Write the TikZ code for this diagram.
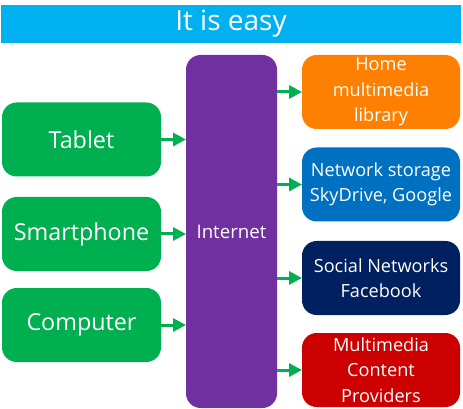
\documentclass[tikz,border=0pt]{standalone}
\usepackage{fontspec}
\setmainfont{Open Sans}
\usetikzlibrary{arrows.meta}
\definecolor{titleblue}{HTML}{00B0F0}
\definecolor{devgreen}{HTML}{00B050}
\definecolor{netpurple}{HTML}{7030A0}
\definecolor{homeorange}{HTML}{FF8000}
\definecolor{storeblue}{HTML}{0070C0}
\definecolor{socialnavy}{HTML}{002060}
\definecolor{contentred}{HTML}{CC0000}
\begin{document}
\begin{tikzpicture}[x=0.75pt, y=-0.75pt, every node/.style={text=white, align=center, inner sep=0pt, outer sep=0pt}, device/.style={fill=devgreen, rounded corners=11pt, minimum width=119.25pt, minimum height=55.5pt, font=\fontsize{17.5}{22}\selectfont}, service/.style={rounded corners=11pt, minimum width=118.5pt, minimum height=55.5pt, font=\fontsize{13.6}{19}\selectfont}, link/.style={-{Triangle[length=9.75pt, width=9.75pt]}, line width=2.25pt, draw=devgreen}]
        \useasboundingbox (0, 0) rectangle (463, 409);
        \node[fill=titleblue, minimum width=345pt, minimum height=28.5pt, font=\fontsize{21}{26}\selectfont] (title) at (231, 24) {It is easy};
        
        \node[fill=netpurple, rounded corners=11pt, minimum width=68.25pt, minimum height=264.75pt, font=\fontsize{14}{19}\selectfont] (internet) at (231.5, 231.5) {Internet};
        
        \node[device] (tablet) at (81.5, 139.5) {Tablet};
        \node[device] (smartphone) at (81.5, 234) {Smartphone};
        \node[device] (computer) at (81.5, 325) {Computer};
        
        \node[service, fill=homeorange] (home) at (381, 92) {Home\\multimedia\\library};
        \node[service, fill=storeblue] (storage) at (381, 184.5) {Network storage\\SkyDrive, Google};
        \node[service, fill=socialnavy] (social) at (381, 278) {Social Networks\\Facebook};
        \node[service, fill=contentred] (content) at (381, 370) {Multimedia\\Content\\Providers};
        
        \draw[link] (tablet.east) -- (tablet.east -| internet.west);
        \draw[link] (smartphone.east) -- (smartphone.east -| internet.west);
        \draw[link] (computer.east) -- (computer.east -| internet.west);
        
        \draw[link] (internet.east |- home.west) -- (home.west);
        \draw[link] (internet.east |- storage.west) -- (storage.west);
        \draw[link] (internet.east |- social.west) -- (social.west);
        \draw[link] (internet.east |- content.west) -- (content.west);
    \end{tikzpicture}
\end{document}
